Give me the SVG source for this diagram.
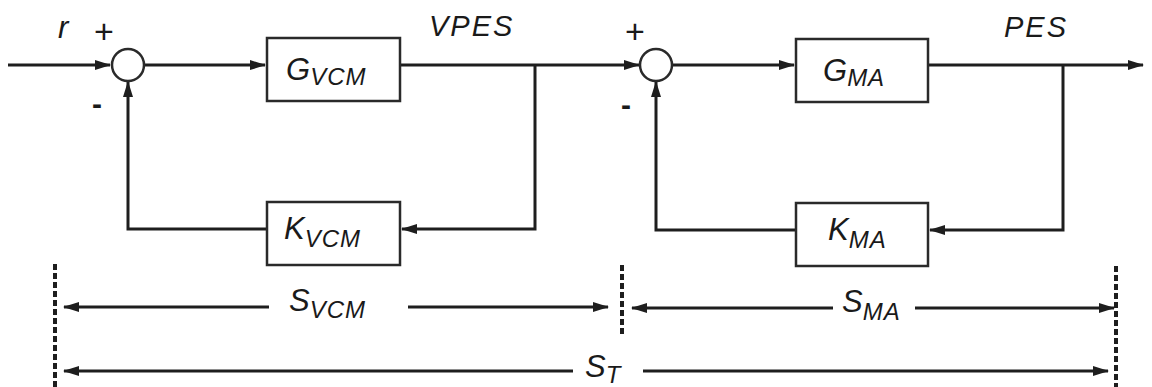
<svg xmlns="http://www.w3.org/2000/svg" width="1152" height="387" viewBox="0 0 1152 387">
<style>
.ln{fill:none;stroke:#1e1e1e;stroke-width:3;stroke-linejoin:miter}
.bx{fill:#fff;stroke:#2a2a2a;stroke-width:2.5}
.sj{fill:#fff;stroke:#2a2a2a;stroke-width:2.5}
.dash{stroke:#1e1e1e;stroke-width:4;stroke-dasharray:6 3;fill:none}
.t{font-family:"Liberation Sans",Arial,sans-serif;font-style:italic;fill:#1a1a1a}
.m{font-size:31px}
.s{font-size:24px;letter-spacing:1px}
.lb{font-size:29px;letter-spacing:2px}
.sg{font-family:"Liberation Sans",Arial,sans-serif;fill:#1a1a1a;font-size:34px}
.mn{font-family:"Liberation Sans",Arial,sans-serif;font-weight:bold;fill:#1a1a1a;font-size:30px}
</style>
<defs>
<marker id="ah" markerWidth="16" markerHeight="10" refX="15" refY="5" orient="auto" markerUnits="userSpaceOnUse">
<path d="M0,0 L16,5 L0,10 Z" fill="#1e1e1e"/>
</marker>
</defs>
<rect width="1152" height="387" fill="#ffffff"/>
<g id="connectors">
<line class="ln" x1="8" y1="65" x2="110" y2="65" marker-end="url(#ah)"/>
<line class="ln" x1="144" y1="65" x2="265" y2="65" marker-end="url(#ah)"/>
<line class="ln" x1="400" y1="65" x2="639" y2="65" marker-end="url(#ah)"/>
<polyline class="ln" points="535,65 535,229 402,229" marker-end="url(#ah)"/>
<polyline class="ln" points="267,229 128,229 128,82" marker-end="url(#ah)"/>
<line class="ln" x1="673" y1="65" x2="794" y2="65" marker-end="url(#ah)"/>
<line class="ln" x1="928" y1="65" x2="1143" y2="65" marker-end="url(#ah)"/>
<polyline class="ln" points="1063,65 1063,230 930,230" marker-end="url(#ah)"/>
<polyline class="ln" points="796,230 656,230 656,82" marker-end="url(#ah)"/>
</g>
<g id="sum1"><circle class="sj" cx="128" cy="65" r="16"/>
<text class="sg" x="94" y="43">+</text><text class="mn" x="92" y="114">-</text></g>
<g id="sum2"><circle class="sj" cx="656" cy="65" r="16"/>
<text class="sg" x="625" y="43">+</text><text class="mn" x="621" y="115">-</text></g>
<g id="label-r"><text class="t" x="58" y="38" font-size="31">r</text></g>
<g id="label-vpes"><text class="t lb" x="429" y="36">VPES</text></g>
<g id="label-pes"><text class="t lb" x="1004" y="37">PES</text></g>
<g id="gvcm"><rect class="bx" x="267" y="38" width="133" height="63"/>
<text class="t m" x="286" y="80">G<tspan class="s" dy="5">VCM</tspan></text></g>
<g id="gma"><rect class="bx" x="796" y="39" width="132" height="63"/>
<text class="t m" x="823" y="81">G<tspan class="s" dy="5">MA</tspan></text></g>
<g id="kvcm"><rect class="bx" x="267" y="202" width="133" height="63"/>
<text class="t m" x="284" y="239">K<tspan class="s" dy="8">VCM</tspan></text></g>
<g id="kma"><rect class="bx" x="796" y="203" width="132" height="63"/>
<text class="t m" x="828" y="240">K<tspan class="s" dy="8">MA</tspan></text></g>
<g id="dimensions">
<line class="dash" x1="55" y1="264" x2="55" y2="387"/>
<line class="dash" x1="622" y1="265" x2="622" y2="334"/>
<line class="dash" x1="1116" y1="266" x2="1116" y2="387"/>
<line class="ln" x1="269" y1="307" x2="64" y2="307" marker-end="url(#ah)"/>
<line class="ln" x1="408" y1="307" x2="608" y2="307" marker-end="url(#ah)"/>
<text class="t m" x="289" y="311">S<tspan class="s" dy="7">VCM</tspan></text>
<line class="ln" x1="833" y1="308" x2="632" y2="308" marker-end="url(#ah)"/>
<line class="ln" x1="915" y1="308" x2="1114" y2="308" marker-end="url(#ah)"/>
<text class="t m" x="842" y="312">S<tspan class="s" dy="8">MA</tspan></text>
<line class="ln" x1="573" y1="371" x2="64" y2="371" marker-end="url(#ah)"/>
<line class="ln" x1="643" y1="371" x2="1108" y2="371" marker-end="url(#ah)"/>
<text class="t m" x="585" y="377">S<tspan class="s" dy="6">T</tspan></text>
</g>
</svg>
